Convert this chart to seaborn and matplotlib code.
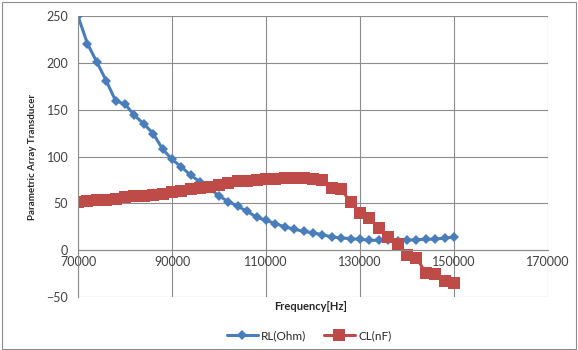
import pandas as pd
import numpy as np
import matplotlib.pyplot as plt
import seaborn as sns
from matplotlib.patches import Rectangle
from matplotlib.ticker import MultipleLocator

# Data (every 2000 Hz)
freq = list(range(70000, 150001, 2000))
rl_ohm = [250, 220.5, 201, 181, 159.5, 156, 144, 135, 124.5, 108,
          97, 89, 80, 73, 66, 58, 52, 47, 41.5, 35.5,
          32, 28.5, 25, 22.5, 20.3, 18.5, 16.7, 14.2, 13.2, 12.5,
          11.7, 10.7, 10.7, 10.7, 10, 10.7, 11.4, 11.7, 12, 13, 14]
cl_nf = [51.5, 52.5, 53.5, 54, 55, 56.5, 57.5, 58.5, 59.5, 60,
         62, 63.5, 65, 66.5, 68, 70, 72, 73.5, 74.5, 75.5,
         76, 76.5, 77.5, 77, 77.5, 76.5, 75.5, 66.5, 65, 51.5,
         40, 34, 24, 14, 7, -4.5, -8, -24, -25, -33, -34.5]
series_names = ['RL(Ohm)', 'CL(nF)']
x_ticks = list(range(70000, 170001, 20000))
y_ticks = list(range(-50, 251, 50))

df = pd.DataFrame({
    'Frequency': freq * 2,
    'value': rl_ohm + cl_nf,
    'series': [series_names[0]] * len(freq) + [series_names[1]] * len(freq),
})

sns.set_style('white')
plt.rcParams['font.family'] = ['Lato', 'DejaVu Sans']

fig = plt.figure(figsize=(5.78, 3.5), dpi=100)
ax = fig.add_axes([0.135, 0.151, 0.813, 0.803])

palette = {'RL(Ohm)': '#4A7EBB', 'CL(nF)': '#BE4B48'}
markers = {'RL(Ohm)': 'D', 'CL(nF)': 's'}
sizes = {'RL(Ohm)': 5.5, 'CL(nF)': 8.5}

for name in series_names:
    sub = df[df['series'] == name]
    sns.lineplot(data=sub, x='Frequency', y='value', ax=ax, color=palette[name],
                 marker=markers[name], markersize=sizes[name], markeredgewidth=0,
                 linewidth=2.2, label=name, legend=False)

ax.set_xlim(70000, 170000)
ax.set_ylim(-50, 250)
ax.set_xticks(x_ticks)
ax.set_yticks(y_ticks)
ax.xaxis.set_minor_locator(MultipleLocator(4000))
ax.grid(True, which='major', color='#8C8C8C', linewidth=0.8)
ax.set_axisbelow(True)

for s in ['top', 'right']:
    ax.spines[s].set_visible(False)
ax.spines['bottom'].set_position(('data', 0))
ax.spines['bottom'].set_color('#8C8C8C')
ax.spines['left'].set_color('#8C8C8C')
ax.tick_params(axis='x', which='both', direction='inout', length=6, color='#8C8C8C',
               labelsize=9, labelcolor='#404040', pad=1)
ax.tick_params(axis='x', which='minor', length=5)
ax.tick_params(axis='y', direction='out', length=4, color='#8C8C8C',
               labelsize=9, labelcolor='#404040', pad=3)
ax.set_xlabel('')
ax.set_ylabel('Parametric Array Transducer', fontsize=7, fontweight='bold',
              color='#262626', labelpad=7)

fig.text(0.537, 0.125, 'Frequency[Hz]', ha='center', va='center', fontsize=8,
         fontweight='bold', color='#262626')

handles, labels = ax.get_legend_handles_labels()
fig.legend(handles, labels, loc='center', bbox_to_anchor=(0.535, 0.04), ncol=2,
           frameon=False, fontsize=8.5, handlelength=2.6, columnspacing=1.5,
           handletextpad=0.3, labelcolor='#262626')

fig.patches.append(Rectangle((0.003, 0.004), 0.994, 0.99, transform=fig.transFigure,
                             fill=False, edgecolor='#8C8C8C', linewidth=0.8))

fig.savefig('out.png', dpi=100)
